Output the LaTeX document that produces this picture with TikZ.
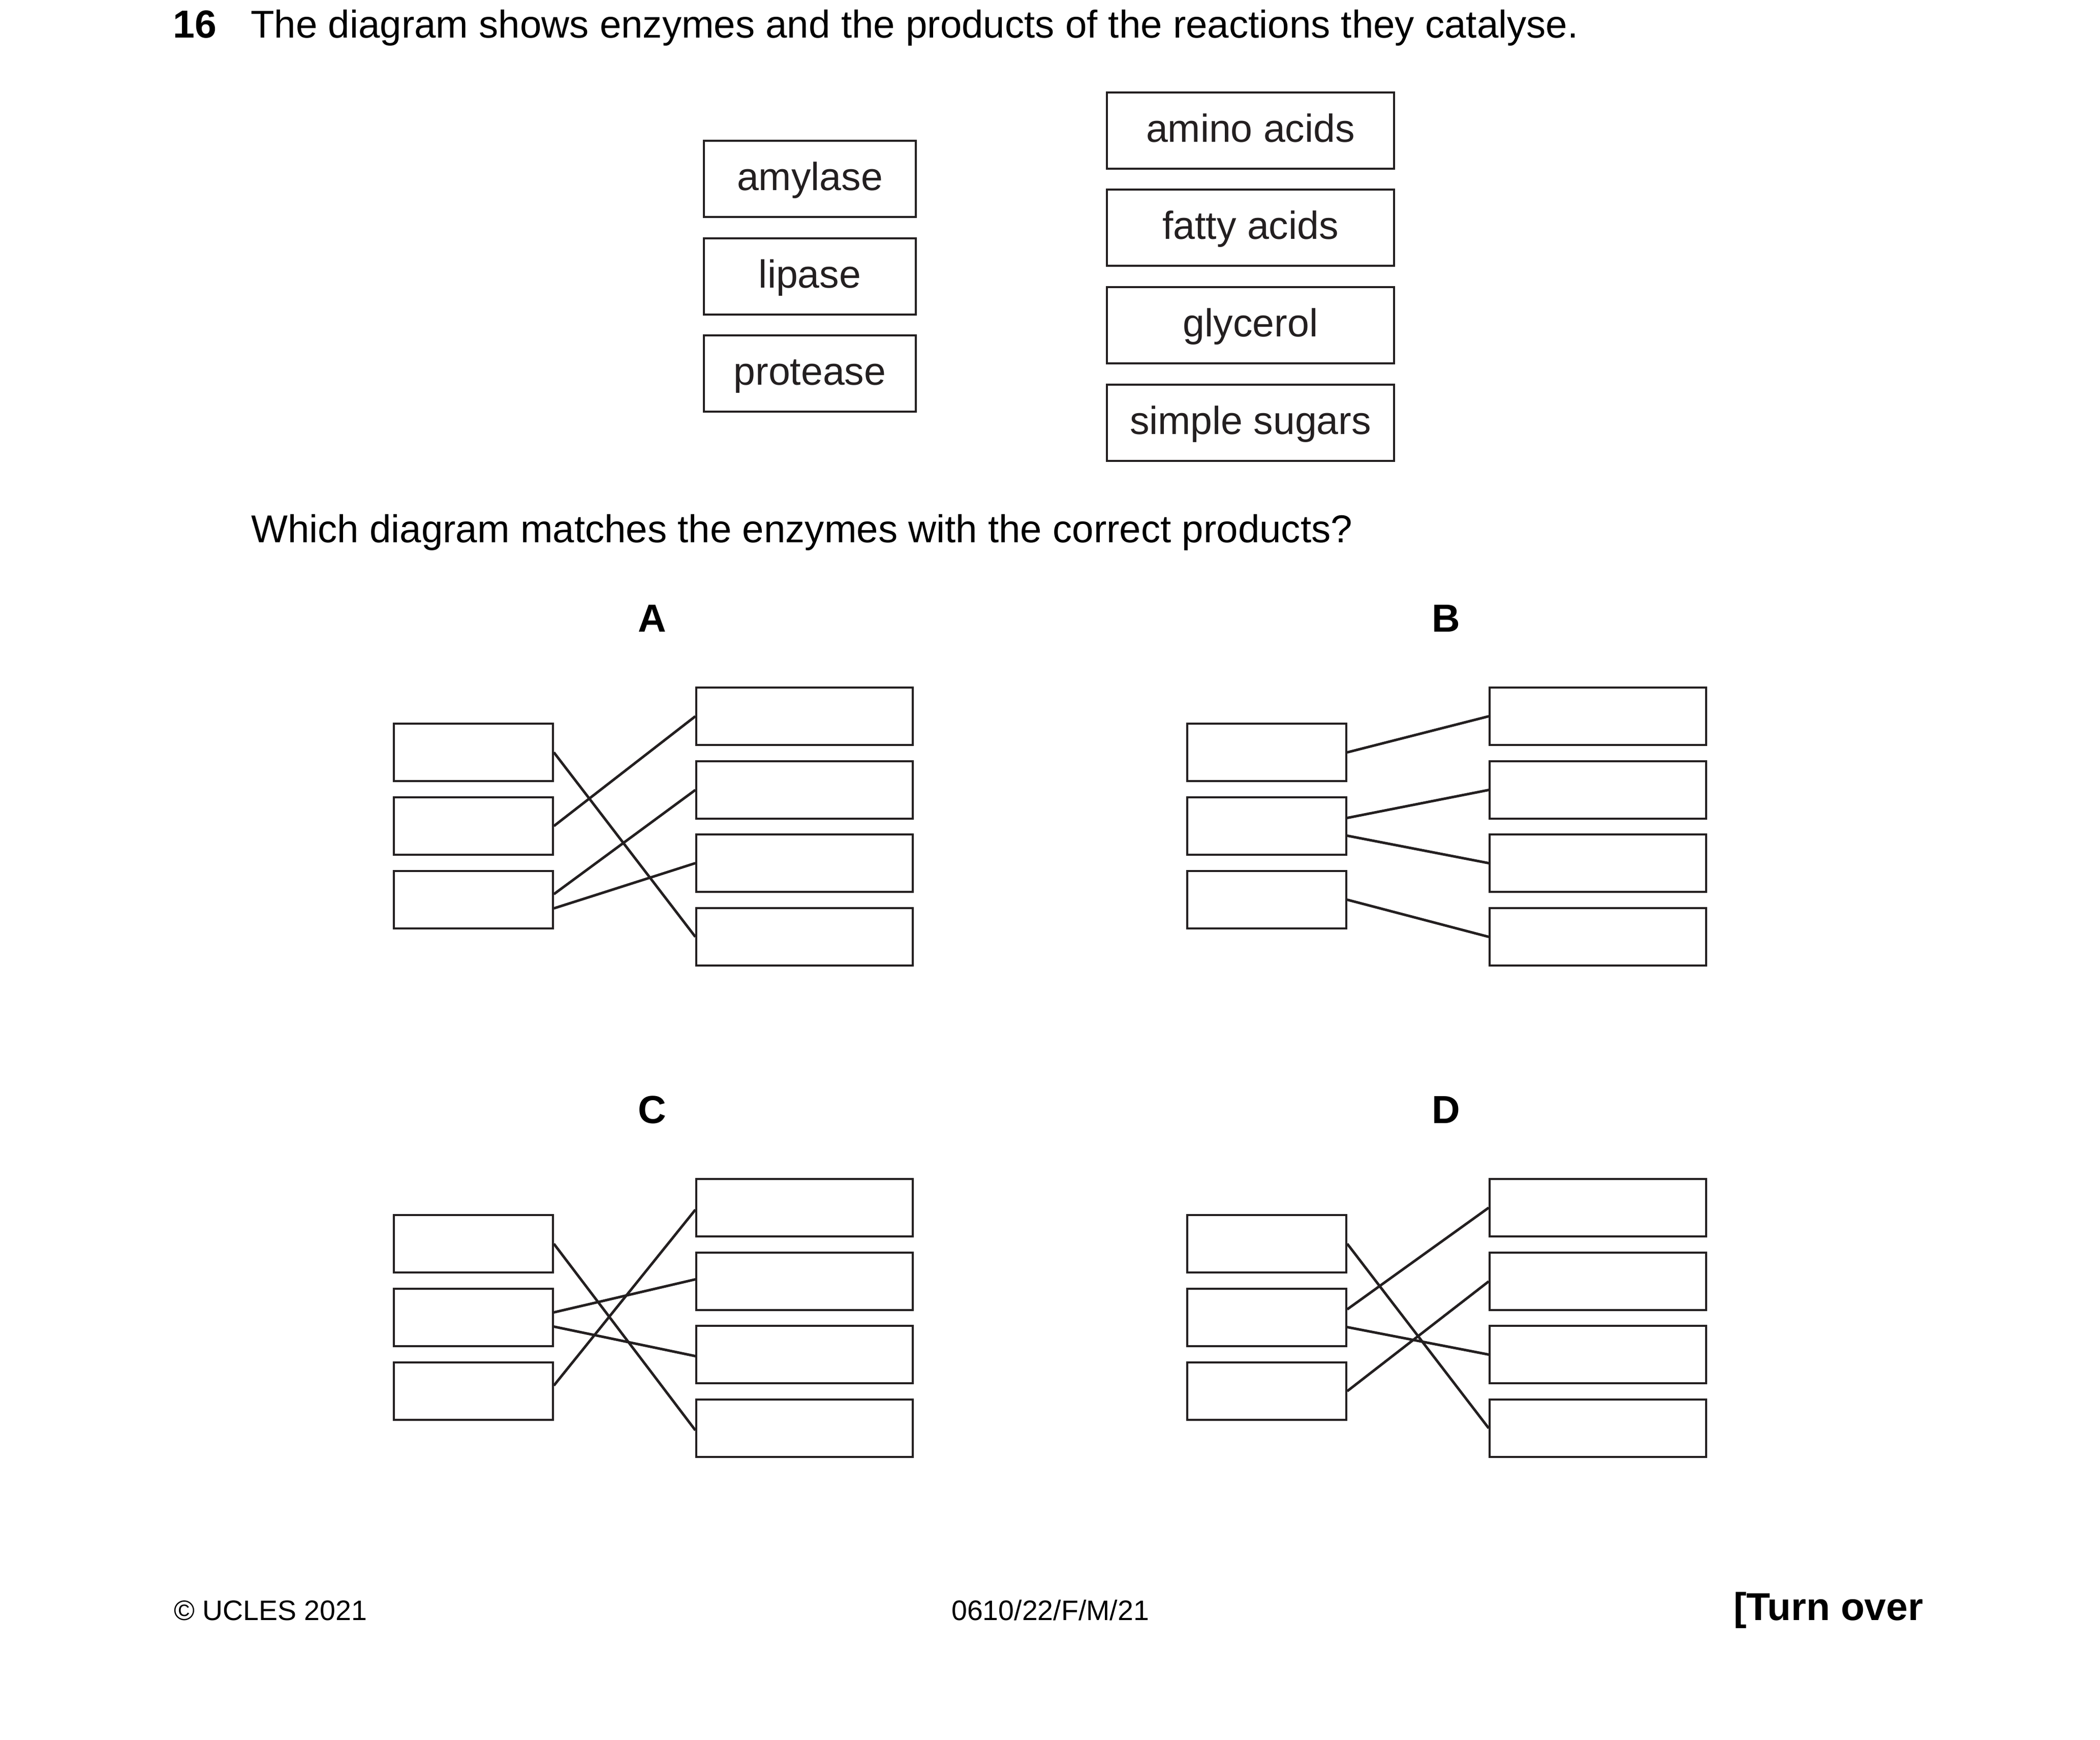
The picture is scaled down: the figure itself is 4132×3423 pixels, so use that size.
\documentclass[tikz,border=0pt]{standalone}
\usepackage{fontspec}
\setmainfont{Liberation Sans}
\definecolor{ink}{HTML}{231F20}
\begin{document}
\begin{tikzpicture}[x=1pt,y=-1pt,
  txt/.style={inner sep=0pt,anchor=base west,text=black,font=\fontsize{76.3}{90}\selectfont},
  btxt/.style={inner sep=0pt,text=black,font=\fontsize{77}{90}\selectfont\bfseries},
  foot/.style={inner sep=0pt,anchor=base west,text=black,font=\fontsize{55.5}{66}\selectfont},
  wordbox/.style={draw=ink,line width=3.5pt,inner sep=0pt,minimum height=150pt,
    text height=56pt,text depth=12pt,text=ink,font=\fontsize{77}{90}\selectfont},
  enz/.style={wordbox,minimum width=417pt},
  prod/.style={wordbox,minimum width=565pt},
  lbox/.style={draw=ink,line width=3.6pt,inner sep=0pt,minimum width=313pt,minimum height=113pt},
  rbox/.style={draw=ink,line width=3.6pt,inner sep=0pt,minimum width=426pt,minimum height=113pt},
  conn/.style={draw=ink,line width=5pt}]
\fill[white] (0,0) rectangle (4132,3423);
\useasboundingbox (0,0) rectangle (4132,3423);

% header
\node[txt,font=\fontsize{77}{90}\selectfont\bfseries] (qnum) at (340,75) {16};
\node[txt] (qtext) at (493,75) {The diagram shows enzymes and the products of the reactions they catalyse.};

% enzymes and products
\node[enz] (amylase) at (1593.5,352) {amylase};
\node[enz] (lipase) at (1593.5,544) {lipase};
\node[enz] (protease) at (1593.5,735) {protease};
\node[prod] (amino) at (2460.5,257) {amino acids};
\node[prod] (fatty) at (2460.5,448) {fatty acids};
\node[prod] (glycerol) at (2460.5,640) {glycerol};
\node[prod] (sugars) at (2460.5,832) {simple sugars};

\node[txt] (which) at (494,1067) {Which diagram matches the enzymes with the correct products?};

% option labels
\node[btxt,anchor=base] (labA) at (1283,1243) {A};
\node[btxt,anchor=base] (labB) at (2845,1243) {B};
\node[btxt,anchor=base] (labC) at (1283,2210) {C};
\node[btxt,anchor=base] (labD) at (2845,2210) {D};

% boxes of the four options
\foreach \p/\dx/\dy in {A/0/0,B/1561/0,C/0/967,D/1561/967}{
  \foreach \i/\t in {1/1424,2/1569,3/1714}
    \node[lbox] (\p L\i) at ({931.5+\dx},{\t+56.5+\dy}) {};
  \foreach \i/\t in {1/1353,2/1498,3/1642,4/1787}
    \node[rbox] (\p R\i) at ({1583+\dx},{\t+56.5+\dy}) {};
}

% A
\draw[conn] (AL1.east) -- (AR4.west);
\draw[conn] (AL2.east) -- (AR1.west);
\draw[conn] ([yshift=11pt]AL3.east) -- (AR2.west);
\draw[conn] ([yshift=-17pt]AL3.east) -- (AR3.west);
% B
\draw[conn] (BL1.east) -- (BR1.west);
\draw[conn] ([yshift=16pt]BL2.east) -- (BR2.west);
\draw[conn] ([yshift=-19pt]BL2.east) -- (BR3.west);
\draw[conn] (BL3.east) -- (BR4.west);
% C
\draw[conn] (CL1.east) -- ([yshift=-4pt]CR4.west);
\draw[conn] ([yshift=10pt]CL2.east) -- ([yshift=4pt]CR2.west);
\draw[conn] ([yshift=-18pt]CL2.east) -- ([yshift=-3pt]CR3.west);
\draw[conn] ([yshift=11pt]CL3.east) -- ([yshift=-4pt]CR1.west);
% D
\draw[conn] (DL1.east) -- (DR4.west);
\draw[conn] ([yshift=16pt]DL2.east) -- (DR1.west);
\draw[conn] ([yshift=-19pt]DL2.east) -- (DR3.west);
\draw[conn] (DL3.east) -- (DR2.west);

% footer
\node[foot] (copy) at (342,3188) {© UCLES 2021};
\node[foot] (code) at (1872,3188) {0610/22/F/M/21};
\node[txt,font=\fontsize{76.5}{90}\selectfont\bfseries] (turn) at (3411,3188) {[Turn over};
\end{tikzpicture}
\end{document}
